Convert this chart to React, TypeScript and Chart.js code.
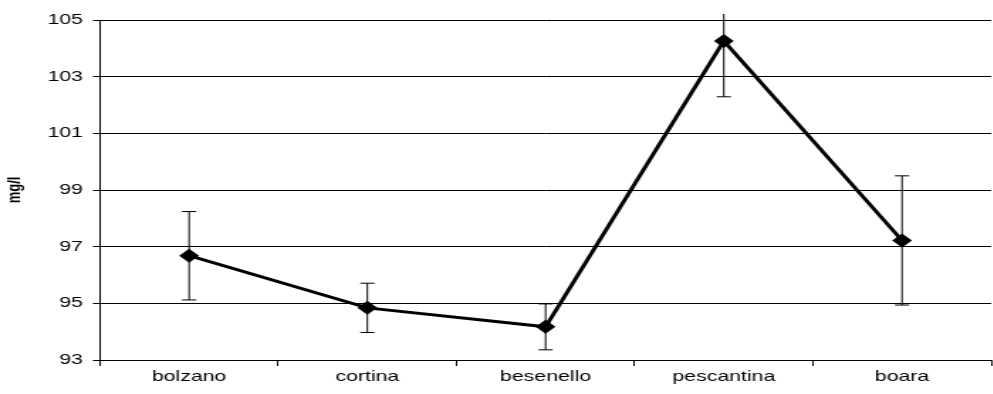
import React, { useEffect, useRef } from "react";
import { Chart, registerables } from "chart.js";

Chart.register(...registerables);

const categories = ["bolzano", "cortina", "besenello", "pescantina", "boara"];
const means = [96.68, 94.84, 94.17, 104.26, 97.22];
const errors = [1.56, 0.87, 0.81, 1.97, 2.28];
const yMin = 93;
const yMax = 105;
const yStep = 2;

const STRETCH = 1.42;
const FONT = "'Liberation Sans', Arial, sans-serif";

const errorBarPlugin = {
  id: "errorBars",
  beforeDatasetsDraw(chart: any) {
    const { ctx, chartArea, scales } = chart;
    const meta = chart.getDatasetMeta(0);
    ctx.save();
    ctx.beginPath();
    ctx.rect(chartArea.left - 20, chartArea.top - 6, chartArea.right - chartArea.left + 40, chartArea.bottom - chartArea.top + 26);
    ctx.clip();
    ctx.strokeStyle = "#000";
    ctx.lineWidth = 1;
    meta.data.forEach((pt: any, i: number) => {
      const x = pt.x;
      const yHi = scales.y.getPixelForValue(means[i] + errors[i]);
      const yLo = scales.y.getPixelForValue(means[i] - errors[i]);
      const cap = 5;
      ctx.beginPath();
      ctx.moveTo(x, yHi);
      ctx.lineTo(x, yLo);
      ctx.moveTo(x - cap, yHi);
      ctx.lineTo(x + cap, yHi);
      ctx.moveTo(x - cap, yLo);
      ctx.lineTo(x + cap, yLo);
      ctx.stroke();
    });
    ctx.restore();
  },
};

export default function App() {
  const ref = useRef<HTMLCanvasElement | null>(null);

  useEffect(() => {
    if (!ref.current) return;
    const chart = new Chart(ref.current, {
      type: "line",
      data: {
        labels: categories,
        datasets: [
          {
            data: means,
            borderColor: "#000",
            backgroundColor: "#000",
            borderWidth: 3,
            pointStyle: "rectRot",
            pointRadius: 7,
            pointBorderWidth: 0,
            pointBackgroundColor: "#000",
            tension: 0,
          },
        ],
      },
      options: {
        animation: false,
        responsive: false,
        events: [],
        layout: { padding: { top: 20, left: 0, right: 0, bottom: 6 } },
        plugins: {
          legend: { display: false },
          tooltip: { enabled: false },
          title: { display: false },
        },
        scales: {
          x: {
            type: "category",
            offset: true,
            grid: {
              offset: true,
              drawOnChartArea: false,
              drawTicks: true,
              tickLength: 6,
              color: "#000",
              lineWidth: 1,
            },
            border: { color: "#000", width: 1 },
            ticks: {
              color: "#000",
              padding: 2,
              font: { family: FONT, size: 15 },
              maxRotation: 0,
              autoSkip: false,
            },
          },
          y: {
            min: yMin,
            max: yMax,
            afterFit(scale: any) {
              scale.width = 100 / STRETCH;
            },
            grid: {
              color: "#000",
              lineWidth: 1,
              drawTicks: true,
              tickLength: 5,
            },
            border: { color: "#000", width: 1 },
            ticks: {
              stepSize: yStep,
              color: "#000",
              padding: 7,
              font: { family: FONT, size: 15 },
            },
            title: {
              display: true,
              text: "mg/l",
              color: "#000",
              font: { family: FONT, size: 13, weight: "bold" },
              padding: { top: 3, bottom: 4 },
            },
          },
        },
      },
      plugins: [errorBarPlugin],
    });
    return () => chart.destroy();
  }, []);

  return (
    <div
      style={{
        position: "fixed",
        left: 0,
        top: 0,
        width: 993,
        height: 394,
        overflow: "hidden",
        background: "#fff",
      }}
    >
      <div
        style={{
          width: 705,
          height: 394,
          transform: `scaleX(${STRETCH})`,
          transformOrigin: "0 0",
        }}
      >
        <canvas ref={ref} width={705} height={394} style={{ display: "block" }} />
      </div>
    </div>
  );
}
